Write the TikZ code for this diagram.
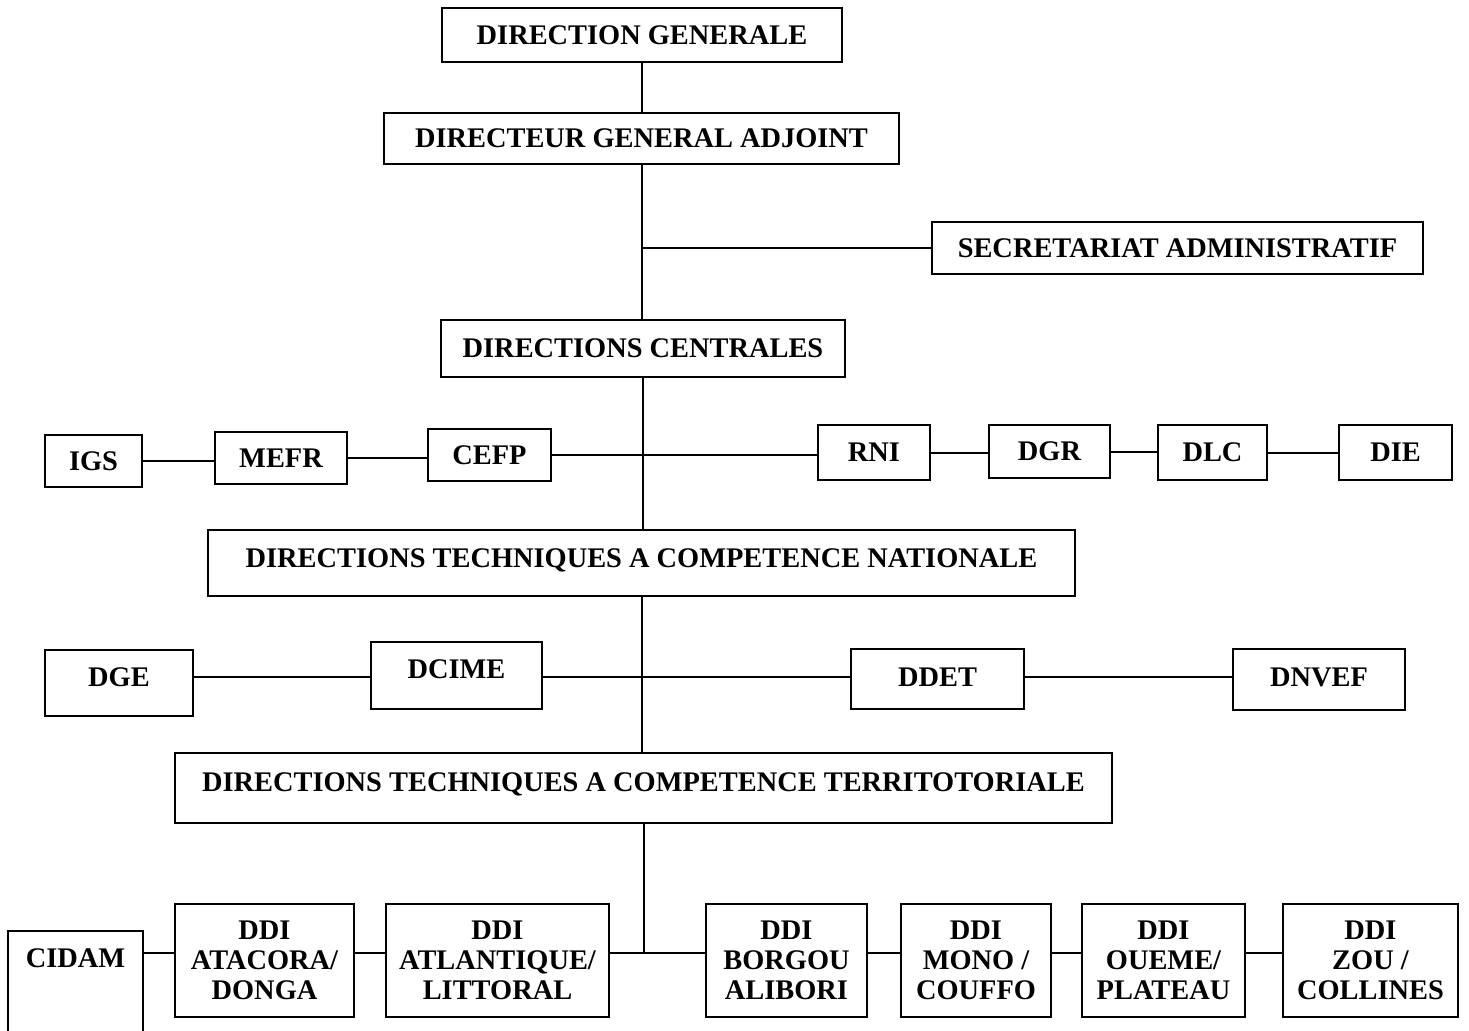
\documentclass[tikz,border=0pt]{standalone}
\usepackage{fontspec}
\setmainfont{Liberation Serif}
\newcommand{\boxfont}{\fontsize{14.2pt}{15pt}\selectfont\bfseries}

\begin{document}
\begin{tikzpicture}[x=0.5pt, y=-0.5pt,
  box/.style={draw, line width=1pt, inner sep=0pt, align=center, font=\boxfont},
  onebox/.style={box, text height=9.4pt, text depth=0pt},
  link/.style={line width=1pt}]
  \clip (0,0) rectangle (1469,1030);

  % Top of the chart
  \node[onebox, minimum width=200pt, minimum height=27pt] (dg) at (642,35) {DIRECTION GENERALE};
  \node[onebox, minimum width=257.5pt, minimum height=25.5pt] (dga) at (641.5,138.5) {DIRECTEUR GENERAL ADJOINT};
  \node[onebox, minimum width=245.5pt, minimum height=26pt] (sa) at (1177.5,248) {SECRETARIAT ADMINISTRATIF};
  \node[onebox, minimum width=202pt, minimum height=28.5pt] (dc) at (643,348.5) {DIRECTIONS CENTRALES};

  % Central directions
  \node[onebox, minimum width=48.5pt, minimum height=26pt] (igs) at (93.5,461) {IGS};
  \node[onebox, minimum width=66pt, minimum height=26pt] (mefr) at (281,458) {MEFR};
  \node[onebox, minimum width=61.5pt, minimum height=26pt] (cefp) at (489.5,455) {CEFP};
  \node[onebox, minimum width=56pt, minimum height=27.5pt] (rni) at (874,452.5) {RNI};
  \node[onebox, minimum width=60.5pt, minimum height=26.5pt] (dgr) at (1049.5,451.5) {DGR};
  \node[onebox, minimum width=54.5pt, minimum height=27.5pt] (dlc) at (1212.5,452.5) {DLC};
  \node[onebox, minimum width=56.5pt, minimum height=27.5pt] (die) at (1395.5,452.5) {DIE};

  % National technical directions
  \node[onebox, text depth=5pt, minimum width=433.5pt, minimum height=33pt] (dtcn) at (641.5,563) {DIRECTIONS TECHNIQUES A COMPETENCE NATIONALE};
  \node[onebox, text depth=6pt, minimum width=74pt, minimum height=33pt] (dge) at (119,683) {DGE};
  \node[onebox, text depth=6.5pt, minimum width=85.5pt, minimum height=33.5pt] (dcime) at (456.5,675.5) {DCIME};
  \node[onebox, text depth=2pt, minimum width=86.5pt, minimum height=30pt] (ddet) at (937.5,679) {DDET};
  \node[onebox, text depth=2.5pt, minimum width=86pt, minimum height=30.5pt] (dnvef) at (1319,679.5) {DNVEF};

  % Territorial technical directions
  \node[onebox, text depth=6pt, minimum width=468.5pt, minimum height=35pt] (dtct) at (643.5,788) {DIRECTIONS TECHNIQUES A COMPETENCE TERRITOTORIALE};
  \node[onebox, text depth=37.5pt, minimum width=67.5pt, minimum height=64.5pt] (cidam) at (75.5,995.5) {CIDAM};
  \node[box, minimum width=89.5pt, minimum height=56.5pt] (atacora) at (264.5,960.5) {DDI\\ATACORA/\\DONGA};
  \node[box, minimum width=111.5pt, minimum height=56.5pt] (atlantique) at (497.5,960.5) {DDI\\ATLANTIQUE/\\LITTORAL};
  \node[box, minimum width=80.5pt, minimum height=56.5pt] (borgou) at (786.5,960.5) {DDI\\BORGOU\\ALIBORI};
  \node[box, minimum width=75pt, minimum height=56.5pt] (mono) at (976,960.5) {DDI\\MONO /\\COUFFO};
  \node[box, minimum width=81.5pt, minimum height=56.5pt] (oueme) at (1163.5,960.5) {DDI\\OUEME/\\PLATEAU};
  \node[box, minimum width=87.5pt, minimum height=56.5pt] (zou) at (1370.5,960.5) {DDI\\ZOU /\\COLLINES};

  % Trunk
  \coordinate (row2) at (0,677);
  \coordinate (row3) at (0,953);
  \draw[link] (dg.south) -- (dg.south |- dga.north);
  \draw[link] (dga.south) -- (dga.south |- dc.north);
  \draw[link] (dga.south |- sa.west) -- (sa.west);
  \draw[link] (dc.south) -- (dc.south |- dtcn.north);
  \draw[link] (dtcn.south) -- (dtcn.south |- dtct.north);
  \draw[link] (dtct.south) -- (dtct.south |- row3);

  % Row links
  \draw[link] (igs.east) -- (igs.east -| mefr.west);
  \draw[link] (mefr.east) -- (mefr.east -| cefp.west);
  \draw[link] (cefp.east) -- (cefp.east -| rni.west);
  \draw[link] (rni.east) -- (rni.east -| dgr.west);
  \draw[link] (dgr.east) -- (dgr.east -| dlc.west);
  \draw[link] (dlc.east) -- (dlc.east -| die.west);

  \draw[link] (dge.east |- row2) -- (dcime.west |- row2);
  \draw[link] (dcime.east |- row2) -- (ddet.west |- row2);
  \draw[link] (ddet.east |- row2) -- (dnvef.west |- row2);

  \draw[link] (cidam.east |- row3) -- (atacora.west |- row3);
  \draw[link] (atacora.east |- row3) -- (atlantique.west |- row3);
  \draw[link] (atlantique.east |- row3) -- (borgou.west |- row3);
  \draw[link] (borgou.east |- row3) -- (mono.west |- row3);
  \draw[link] (mono.east |- row3) -- (oueme.west |- row3);
  \draw[link] (oueme.east |- row3) -- (zou.west |- row3);
\end{tikzpicture}
\end{document}
